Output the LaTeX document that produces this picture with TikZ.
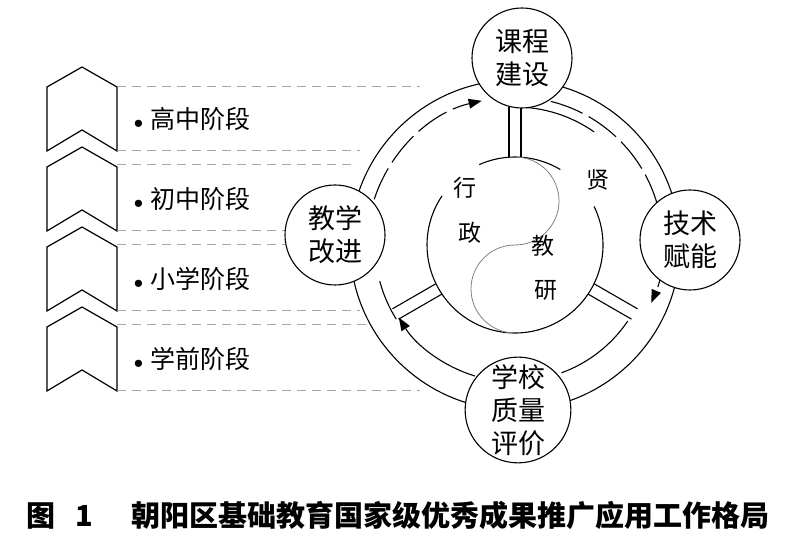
\documentclass[tikz,border=0pt]{standalone}
\usepackage{fontspec}
\newfontfamily\cjk{Noto Sans CJK SC}
\usepackage{tikz}
\usetikzlibrary{arrows.meta,calc}

\begin{document}
\begin{tikzpicture}[x=1pt, y=1pt,
    line width=1.1pt,
    hub/.style={circle, draw, fill=white, align=center, minimum size=100pt, inner sep=0pt, font=\cjk\fontsize{27}{33}\selectfont},
    stage/.style={anchor=west, font=\cjk\fontsize{25}{28}\selectfont},
    word/.style={font=\cjk\fontsize{23}{24}\selectfont},
    guide/.style={dashed, gray!70, line width=1pt, dash pattern=on 9pt off 6pt},
    flow/.style={-{Triangle[length=13pt, width=10pt, line width=0pt]}},
    longdash/.style={dash pattern=on 34pt off 7pt}
]
    \useasboundingbox (0,0) rectangle (796,540);
    \coordinate (O) at (515,295);

    % stages on the left
    \foreach \k/\txt in {0/高中阶段, 1/初中阶段, 2/小学阶段, 3/学前阶段} {
        \draw[line width=1.2pt] (47,453-80*\k) -- (82,473-80*\k) -- (117,453-80*\k)
            -- (117,389-80*\k) -- (82,410-80*\k) -- (47,389-80*\k) -- cycle;
        \node[stage] (st\k) at (130,421-80*\k) {\scalebox{0.75}{$\bullet$}\;\txt};
    }
    \foreach \yy/\xx in {453/420, 389/360, 375/355, 309/285, 295/285, 229/360, 215/368, 149/420}
        \draw[guide] (117,\yy) -- (\xx,\yy);

    % ring
    \draw (O) circle[radius=165];
    \draw[longdash, flow] ($(O)+(162:148)$) arc[start angle=162, end angle=103, radius=148];
    \draw[longdash, flow] ($(O)+(76:148)$) arc[start angle=76, end angle=-23, radius=148];
    \draw[flow] ($(O)+(253:137)$) arc[start angle=253, end angle=212, radius=137];
    \draw ($(O)+(86:138)$) arc[start angle=86, end angle=55, radius=138];
    \draw ($(O)+(326:136)$) arc[start angle=326, end angle=290, radius=136];
    \draw ($(O)+(212:140)$) arc[start angle=212, end angle=195, radius=140];

    % spokes
    \foreach \a in {90, 210, 330} {
        \draw ($(O)+(\a:88)+(\a+90:6)$) -- ($(O)+(\a:138)+(\a+90:6)$);
        \draw ($(O)+(\a:88)+(\a-90:6)$) -- ($(O)+(\a:138)+(\a-90:6)$);
    }

    % inner disc
    \draw ($(O)+(114:88)$) arc[start angle=114, end angle=59, radius=88];
    \draw ($(O)+(26:88)$) arc[start angle=26, end angle=-214, radius=88];
    \draw[gray, line width=0.8pt] ($(O)+(90:88)$) arc[start angle=90, end angle=-90, radius=44]
        arc[start angle=90, end angle=270, radius=44];
    \node[word] (w1) at (465,352) {行};
    \node[word] (w2) at (470,307) {政};
    \node[word] (w3) at (543,294) {教};
    \node[word] (w4) at (546,250) {研};
    \node[word] (w5) at (598,360) {贤};

    % hubs
    \node[hub] (plan) at (522,482) {课程\\建设};
    \node[hub] (tech) at (690,300) {技术\\赋能};
    \node[hub, minimum size=104pt] (eval) at (518,130) {学校\\质量\\评价};
    \node[hub] (teach) at (335,305) {教学\\改进};

    \node[font=\cjk\bfseries\fontsize{29}{32}\selectfont] (cap) at (398,25)
        {图\hspace{0.7em}1\hspace{1.3em}朝阳区基础教育国家级优秀成果推广应用工作格局};
\end{tikzpicture}
\end{document}
